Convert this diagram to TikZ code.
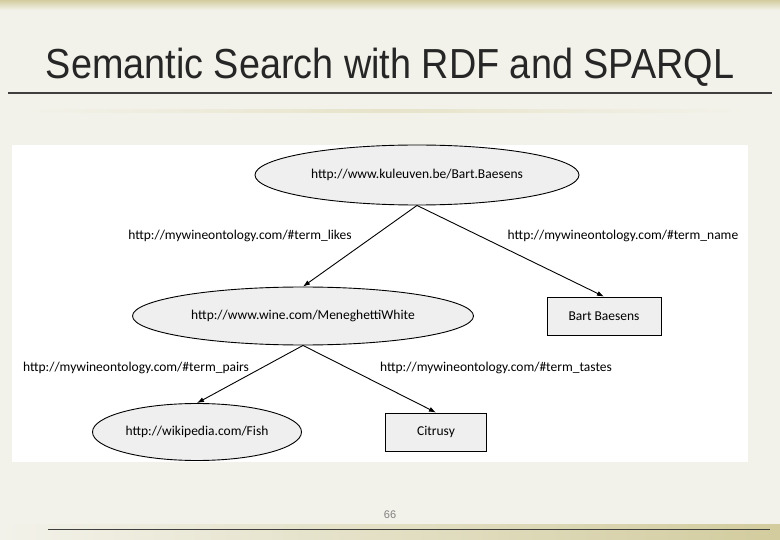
\documentclass[tikz,border=0pt]{standalone}
\usepackage{fontspec}
\setmainfont{Liberation Sans}
\newfontfamily\rdffont{Carlito}
\usepackage{xcolor}
\definecolor{slidebg}{HTML}{F3F2EA}
\definecolor{slidegold}{HTML}{D2CC9E}
\definecolor{ruledark}{HTML}{3F3F3F}
\definecolor{nodegray}{HTML}{EFEFEF}
\definecolor{titleink}{HTML}{262626}
\usepackage{tikz}
\usetikzlibrary{positioning,arrows.meta,shapes.geometric}

\begin{document}
\begin{tikzpicture}[
  x=1pt, y=-1pt,
  resnode/.style={
    draw=black, line width=0.9pt, ellipse,
    fill=nodegray, font=\rdffont\fontsize{13.5}{15}\selectfont,
    inner sep=0pt,
  },
  litbox/.style={
    draw=black, line width=0.9pt, rectangle,
    fill=nodegray, font=\rdffont\fontsize{13.5}{15}\selectfont,
    inner sep=0pt,
  },
  triple/.style={draw=black, line width=0.9pt, -{Latex[length=7pt,width=5pt]}},
  predlabel/.style={font=\rdffont\fontsize{13.5}{15}\selectfont, inner sep=0pt},
]

% === SLIDE BACKGROUND ===
\useasboundingbox (0,0) rectangle (780,540);
\fill[slidebg] (0,0) rectangle (780,540);
\shade[top color=slidegold, bottom color=slidebg] (0,0) rectangle (780,10);
\shade[left color=slidebg, right color=slidegold] (0,524) rectangle (780,540);
\shade[left color=slidebg, right color=slidebg, middle color=slidegold!55]
  (25,110) rectangle (745,112.5);

% === TITLE ===
\node[font=\fontsize{42}{46}\selectfont, text=titleink, inner sep=0pt]
  (title) at (390,67) {\scalebox{0.9}[1]{Semantic Search with RDF and SPARQL}};
\draw[ruledark, line width=2pt] (8,93) -- (772,93);

% === RDF GRAPH (white picture area) ===
\fill[white] (12,145) rectangle (748,462);

\node[resnode, minimum width=324pt, minimum height=60pt] (person) at (417,175)
  {http://www.kuleuven.be/Bart.Baesens};
\node[resnode, minimum width=341pt, minimum height=58pt] (wine) at (303,316)
  {http://www.wine.com/MeneghettiWhite};
\node[litbox, minimum width=114pt, minimum height=38pt] (name) at (604,316)
  {Bart Baesens};
\node[resnode, minimum width=209pt, minimum height=57pt] (fish) at (197,432)
  {http://wikipedia.com/Fish};
\node[litbox, minimum width=101pt, minimum height=38pt] (taste) at (436,432)
  {Citrusy};

% --- predicates ---
\draw[triple] (person.south) -- (wine.north);
\draw[triple] (person.south) -- (name.north);
\draw[triple] (wine.south) -- (fish.north);
\draw[triple] (wine.south) -- (taste.north);

\node[predlabel] (likes) at (240,236) {http://mywineontology.com/\#term\_likes};
\node[predlabel] (hasname) at (623,236) {http://mywineontology.com/\#term\_name};
\node[predlabel] (pairs) at (136,368) {http://mywineontology.com/\#term\_pairs};
\node[predlabel] (tastes) at (496,368) {http://mywineontology.com/\#term\_tastes};

% === FOOTER ===
\node[font=\fontsize{11}{12}\selectfont, text=gray] (pageno) at (390,515) {66};
\draw[ruledark, line width=0.8pt] (48,529) -- (770,529);

\end{tikzpicture}
\end{document}
